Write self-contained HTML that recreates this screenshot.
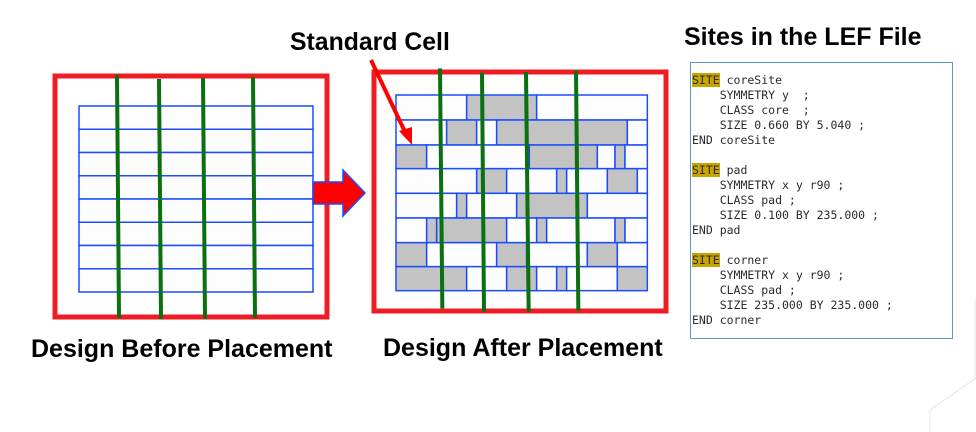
<!DOCTYPE html>
<html><head><meta charset="utf-8"><style>
html,body{margin:0;padding:0;background:#fff;}
svg{display:block;}
.t{font-family:"Liberation Sans",Arial,sans-serif;font-weight:bold;fill:#000;}
.m{font-family:"DejaVu Sans Mono","Liberation Mono",monospace;font-size:11.5px;fill:#2a2a2a;}
</style></head><body>
<svg id="s" width="976" height="432" viewBox="0 0 976 432" xmlns="http://www.w3.org/2000/svg">
<g>
<rect x="55" y="76" width="272" height="241" fill="none" stroke="#ee1c25" stroke-width="5"/>
<g id="beforeGrid"></g>
<g id="beforeGreen"></g>
</g>
<polygon points="313,182 343,182 343,170 365,193 343,216 343,204 313,204" fill="#ff0000" stroke="#1a4cff" stroke-width="1.5"/>
<g>
<rect x="374" y="72" width="292" height="239" fill="none" stroke="#ee1c25" stroke-width="5"/>
<g id="afterGrid"></g>
<g id="afterGreen"></g>
</g>
<line x1="371" y1="60" x2="406" y2="134" stroke="#ff0000" stroke-width="4"/>
<polygon points="412,145 399,131 412,127" fill="#ff0000"/>
<text class="t" x="290" y="50" font-size="24.8">Standard Cell</text>
<text class="t" x="684" y="45" font-size="25">Sites in the LEF File</text>
<text class="t" x="31" y="357" font-size="25">Design Before Placement</text>
<text class="t" x="383" y="356" font-size="25">Design After Placement</text>
<rect x="690.5" y="62.5" width="262" height="276" fill="#fff" stroke="#5b9bbd" stroke-width="1"/>
<g id="code"></g>
<g stroke="#e4e4e4" fill="none">
<path d="M930 410 L976 378 M930 410 L930 432 M975 300 L975 380"/>
</g>
</svg>
<script>
const NS="http://www.w3.org/2000/svg";
function mk(p,tag,a){const e=document.createElementNS(NS,tag);for(const k in a)e.setAttribute(k,a[k]);p.appendChild(e);return e;}
const bg=document.getElementById('beforeGrid');
const bx0=79,bx1=313,by0=106,by1=292;
for(let i=0;i<8;i++){const h=(by1-by0)/8;
const r=mk(bg,'rect',{x:bx0,y:by0+i*h,width:bx1-bx0,height:h,fill:'#fdfdfd',stroke:'#1a4cff','stroke-width':1.5});

}
const greenB=[[117,75,119,318],[159,79,161,319],[203,78,205,319],[253,77,255,318]];
const gb=document.getElementById('beforeGreen');
greenB.forEach(g=>{const l=mk(gb,'line',{x1:g[0],y1:g[1],x2:g[2],y2:g[3],stroke:'#0a7010','stroke-width':4});

});
const rowsY=[105,180,255,326,400,474,548,620,692];
const rows=[
[[78,290,0],[290,500,1],[500,832,0]],
[[78,230,0],[230,320,1],[320,380,0],[380,772,1],[772,832,0]],
[[78,170,1],[170,478,0],[478,682,1],[682,735,0],[735,765,1],[765,832,0]],
[[78,320,0],[320,410,1],[410,560,0],[560,590,1],[590,712,0],[712,802,1],[802,832,0]],
[[78,260,0],[260,290,1],[290,440,0],[440,652,1],[652,832,0]],
[[78,170,0],[170,200,1],[200,410,1],[410,500,0],[500,530,1],[530,735,0],[735,765,1],[765,832,0]],
[[78,170,1],[170,380,0],[380,470,1],[470,652,0],[652,742,1],[742,832,0]],
[[78,290,1],[290,410,0],[410,500,1],[500,560,0],[560,590,1],[590,742,0],[742,832,1]]];
const ag=document.getElementById('afterGrid');
const X=v=>370+v/3,Y=v=>60+v/3;
rows.forEach((row,i)=>row.forEach(c=>{
const r=mk(ag,'rect',{x:X(c[0]),y:Y(rowsY[i]),width:(c[1]-c[0])/3,height:(rowsY[i+1]-rowsY[i])/3,fill:c[2]?'#c3c3c3':'#fdfdfd',stroke:'#1a4cff','stroke-width':1.5});

}));
const greenA=[[210,25,217,745],[336,38,342,755],[468,36,476,755],[618,32,625,752]];
const ga=document.getElementById('afterGreen');
greenA.forEach(g=>{const l=mk(ga,'line',{x1:X(g[0]),y1:Y(g[1]),x2:X(g[2]),y2:Y(g[3]),stroke:'#0a7010','stroke-width':4});

});
const lines=[["SITE"," coreSite"],["","    SYMMETRY y  ;"],["","    CLASS core  ;"],["","    SIZE 0.660 BY 5.040 ;"],["","END coreSite"],["",""],
["SITE"," pad"],["","    SYMMETRY x y r90 ;"],["","    CLASS pad ;"],["","    SIZE 0.100 BY 235.000 ;"],["","END pad"],["",""],
["SITE"," corner"],["","    SYMMETRY x y r90 ;"],["","    CLASS pad ;"],["","    SIZE 235.000 BY 235.000 ;"],["","END corner"]];
const cg=document.getElementById('code');
lines.forEach((l,i)=>{const y=84+i*15;
if(l[0]){const h=mk(cg,'rect',{x:692,y:y-11,width:28,height:14,fill:'#c8a400'});

}
const t=mk(cg,'text',{x:692,y:y,class:'m','xml:space':'preserve'});
t.setAttribute('style','white-space:pre');
t.textContent=l[0]+l[1];

});
</script>
</body></html>
